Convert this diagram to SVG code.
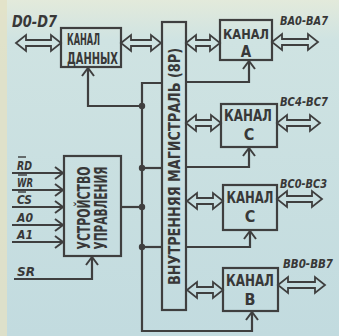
<svg xmlns="http://www.w3.org/2000/svg" width="339" height="336" viewBox="0 0 339 336">
<defs>
<linearGradient id="bg" x1="0" y1="0" x2="0" y2="1">
<stop offset="0" stop-color="#e3eadb"/>
<stop offset="0.12" stop-color="#cfe3e2"/>
<stop offset="1" stop-color="#c2dbdf"/>
</linearGradient>
<marker id="chev" viewBox="0 0 10 14" refX="9" refY="7" markerWidth="10" markerHeight="14" markerUnits="userSpaceOnUse" orient="auto">
<path d="M1,1 L9,7 L1,13" fill="none" stroke="#3f3f3f" stroke-width="2"/>
</marker>
<style>
.ln{fill:none;stroke:#3f3f3f;stroke-width:2.2;stroke-linejoin:miter}
.box{fill:none;stroke:#3f3f3f;stroke-width:2.2}
.dbl{fill:none;stroke:#3f3f3f;stroke-width:1.8;stroke-linejoin:miter}
.dot{fill:#3f3f3f}
.t{font-family:"DejaVu Sans Condensed","DejaVu Sans",sans-serif;font-weight:bold;fill:#383838}
.lbl{font-family:"DejaVu Sans Condensed","DejaVu Sans",sans-serif;font-weight:bold;font-style:italic;fill:#383838}
.bar{stroke:#383838;stroke-width:1.4}
</style>
</defs>
<rect width="339" height="336" fill="url(#bg)"/>
<rect x="0" y="0" width="7" height="336" fill="#e4e1c4" opacity="0.8"/>

<g id="connectors">
<path class="dbl" d="M16 43 L26 35 L26 40 L51 40 L51 35 L61 43 L51 51 L51 46 L26 46 L26 51 Z"/>
<path class="dbl" d="M121 43 L131 35 L131 40 L151 40 L151 35 L161 43 L151 51 L151 46 L131 46 L131 51 Z"/>
<path class="dbl" d="M186 43 L196 35 L196 40 L210 40 L210 35 L220 43 L210 51 L210 46 L196 46 L196 51 Z"/>
<path class="dbl" d="M272 42 L282 34 L282 39 L308 39 L308 34 L318 42 L308 50 L308 45 L282 45 L282 50 Z"/>
<path class="dbl" d="M186 123 L196 115 L196 120 L211 120 L211 115 L221 123 L211 131 L211 126 L196 126 L196 131 Z"/>
<path class="dbl" d="M277 123 L287 115 L287 120 L310 120 L310 115 L320 123 L310 131 L310 126 L287 126 L287 131 Z"/>
<path class="dbl" d="M187 201 L197 193 L197 198 L213 198 L213 193 L223 201 L213 209 L213 204 L197 204 L197 209 Z"/>
<path class="dbl" d="M277 199 L287 191 L287 196 L312 196 L312 191 L322 199 L312 207 L312 202 L287 202 L287 207 Z"/>
<path class="dbl" d="M187 290 L197 282 L197 287 L213 287 L213 282 L223 290 L213 298 L213 293 L197 293 L197 298 Z"/>
<path class="dbl" d="M278 285 L288 277 L288 282 L315 282 L315 277 L325 285 L315 293 L315 288 L288 288 L288 293 Z"/>

<polyline class="ln" points="162,83 142,83 142,331 252,331 252,312" marker-end="url(#chev)"/>
<polyline class="ln" points="186,82 249,82 249,61" marker-end="url(#chev)"/>
<polyline class="ln" points="142,106 88,106 88,68" marker-end="url(#chev)"/>
<line class="ln" x1="142" y1="168" x2="162" y2="168"/>
<polyline class="ln" points="186,167 249,167 249,148" marker-end="url(#chev)"/>
<line class="ln" x1="121" y1="207" x2="142" y2="207"/>
<line class="ln" x1="142" y1="247" x2="162" y2="247"/>
<polyline class="ln" points="186,247 250,247 250,231" marker-end="url(#chev)"/>
<circle class="dot" cx="142" cy="106" r="3.2"/>
<circle class="dot" cx="142" cy="168" r="3.2"/>
<circle class="dot" cx="142" cy="207" r="3.2"/>
<circle class="dot" cx="142" cy="247" r="3.2"/>

<line class="ln" x1="12" y1="173" x2="63" y2="173" marker-end="url(#chev)"/>
<line class="ln" x1="12" y1="190" x2="63" y2="190" marker-end="url(#chev)"/>
<line class="ln" x1="12" y1="207" x2="63" y2="207" marker-end="url(#chev)"/>
<line class="ln" x1="12" y1="225" x2="63" y2="225" marker-end="url(#chev)"/>
<line class="ln" x1="12" y1="242" x2="63" y2="242" marker-end="url(#chev)"/>
<polyline class="ln" points="14,279 92,279 92,257" marker-end="url(#chev)"/>
</g>

<g id="bus">
<rect class="box" x="162" y="22" width="24" height="288"/>
<text class="t" font-size="15" text-anchor="middle" transform="translate(180,166.5) rotate(-90)" textLength="237" lengthAdjust="spacingAndGlyphs">ВНУТРЕННЯЯ МАГИСТРАЛЬ (8Р)</text>
</g>

<g id="data-channel">
<rect class="box" x="61" y="28" width="60" height="39"/>
<text class="t" font-size="15" x="67" y="45" textLength="33" lengthAdjust="spacingAndGlyphs">КАНАЛ</text>
<text class="t" font-size="15" x="67" y="64" textLength="51" lengthAdjust="spacingAndGlyphs">ДАННЫХ</text>
<text class="lbl" font-size="16" x="12" y="27" textLength="45" lengthAdjust="spacingAndGlyphs">D0-D7</text>
</g>

<g id="channel-a">
<rect class="box" x="220" y="20" width="52" height="40"/>
<text class="t" font-size="14" x="246" y="39" text-anchor="middle" textLength="46" lengthAdjust="spacingAndGlyphs">КАНАЛ</text>
<text class="t" font-size="15" x="246" y="57" text-anchor="middle">А</text>
<text class="lbl" font-size="12.5" x="280" y="25" textLength="48" lengthAdjust="spacingAndGlyphs">BA0-BA7</text>
</g>

<g id="channel-c-upper">
<rect class="box" x="221" y="104" width="56" height="43"/>
<text class="t" font-size="15" x="248" y="121" text-anchor="middle" textLength="48" lengthAdjust="spacingAndGlyphs">КАНАЛ</text>
<text class="t" font-size="16" x="249" y="140" text-anchor="middle">С</text>
<text class="lbl" font-size="12.5" x="280" y="106" textLength="48" lengthAdjust="spacingAndGlyphs">BC4-BC7</text>
</g>

<g id="channel-c-lower">
<rect class="box" x="223" y="185" width="54" height="45"/>
<text class="t" font-size="15" x="250" y="203" text-anchor="middle" textLength="47" lengthAdjust="spacingAndGlyphs">КАНАЛ</text>
<text class="t" font-size="16" x="250" y="222" text-anchor="middle">С</text>
<text class="lbl" font-size="12.5" x="280" y="188" textLength="47" lengthAdjust="spacingAndGlyphs">BC0-BC3</text>
</g>

<g id="channel-b">
<rect class="box" x="223" y="268" width="55" height="43"/>
<text class="t" font-size="15" x="250" y="286" text-anchor="middle" textLength="48" lengthAdjust="spacingAndGlyphs">КАНАЛ</text>
<text class="t" font-size="16" x="250" y="305" text-anchor="middle">В</text>
<text class="lbl" font-size="12" x="283" y="268" textLength="50" lengthAdjust="spacingAndGlyphs">BB0-BB7</text>
</g>

<g id="control-unit">
<rect class="box" x="64" y="156" width="57" height="100"/>
<text class="t" font-size="17" text-anchor="middle" transform="translate(90,208) rotate(-90)" textLength="83" lengthAdjust="spacingAndGlyphs">УСТРОЙСТВО</text>
<text class="t" font-size="17" text-anchor="middle" transform="translate(107,208) rotate(-90)" textLength="83" lengthAdjust="spacingAndGlyphs">УПРАВЛЕНИЯ</text>
</g>

<g id="inputs">
<text class="lbl" font-size="13" x="17" y="170" textLength="15" lengthAdjust="spacingAndGlyphs">RD</text>
<line class="bar" x1="18" y1="157" x2="26" y2="157"/>
<text class="lbl" font-size="13" x="17" y="187" textLength="16" lengthAdjust="spacingAndGlyphs">WR</text>
<line class="bar" x1="18" y1="175" x2="27" y2="175"/>
<text class="lbl" font-size="13" x="17" y="204" textLength="15" lengthAdjust="spacingAndGlyphs">CS</text>
<line class="bar" x1="18" y1="192" x2="26" y2="192"/>
<text class="lbl" font-size="13" x="17" y="222" textLength="16" lengthAdjust="spacingAndGlyphs">A0</text>
<text class="lbl" font-size="13" x="17" y="239" textLength="16" lengthAdjust="spacingAndGlyphs">A1</text>
<text class="lbl" font-size="13" x="17" y="276" textLength="18" lengthAdjust="spacingAndGlyphs">SR</text>
</g>
</svg>
